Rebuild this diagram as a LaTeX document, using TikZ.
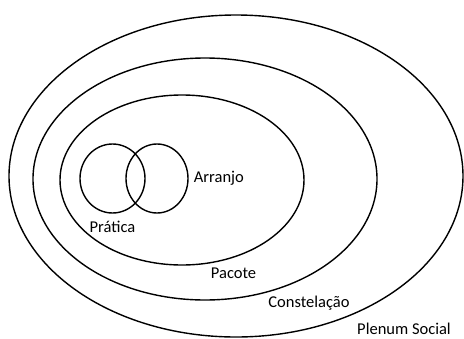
\documentclass[tikz,border=0pt]{standalone}
\usepackage{fontspec}
\setmainfont{Carlito}
\usetikzlibrary{
  shapes.geometric,
  positioning
}
\tikzset{
  ring/.style 2 args = {
    ellipse, draw=black, line width=1.4pt,
    minimum width=#1, minimum height=#2, inner sep=0pt
  },
  lbl/.style = {font=\fontsize{16.5}{18}\selectfont, inner sep=0pt},
}

\begin{document}
\begin{tikzpicture}[x=1pt, y=-1pt]

  \useasboundingbox (0,0) rectangle (464,338);

  % Nested rings
  \node[ring={454pt}{322pt}] (plenum) at (236,176) {};
  \node[ring={344pt}{242pt}] (const) at (205,179) {};
  \node[ring={244pt}{170pt}] (pacote) at (182,180) {};

  % Overlapping circles
  \node[ring={65pt}{69pt}] (pratica) at (112.5,178.5) {};
  \node[ring={62pt}{69pt}] (arranjo) at (157,178.5) {};

  % Labels
  \node[lbl, right=5pt of arranjo] (arranjo_lbl) {Arranjo};
  \node[lbl, below=7pt of pratica] (pratica_lbl) {Prática};
  \node[lbl] (pacote_lbl) at (233.5,273) {Pacote};
  \node[lbl] (const_lbl) at (309,303) {Constelação};
  \node[lbl] (plenum_lbl) at (404,329) {Plenum Social};

\end{tikzpicture}
\end{document}
